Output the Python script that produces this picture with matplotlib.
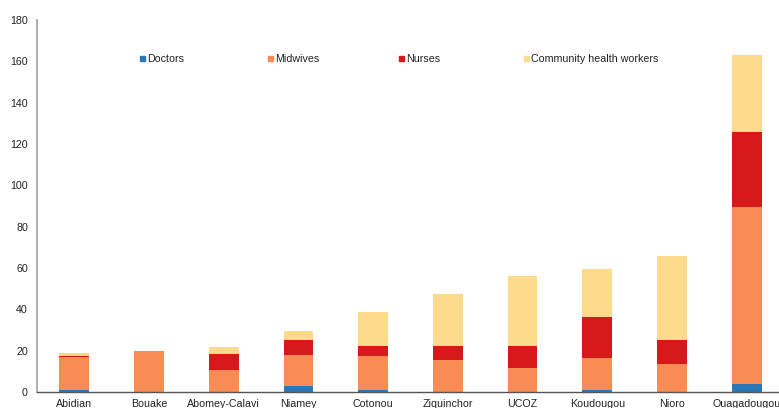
import matplotlib
matplotlib.use("Agg")
import matplotlib.pyplot as plt
from matplotlib.lines import Line2D
import numpy as np

plt.rcParams['font.family'] = ['Liberation Sans', 'DejaVu Sans']

sites = ["Abidian", "Bouake", "Abomey-Calavi", "Niamey", "Cotonou",
         "Ziquinchor", "UCOZ", "Koudougou", "Nioro", "Ouagadougou"]
doctors = [1, 0, 0, 3, 1, 0, 0, 1, 0, 4]
midwives = [16, 20, 10.5, 15, 16.5, 15.5, 11.5, 15.5, 13.5, 85.5]
nurses = [0.5, 0, 8, 7, 5, 7, 11, 20, 11.5, 36.5]
chw = [1.5, 0, 3.5, 4.5, 16, 25, 33.5, 23, 41, 37]

series = [("Doctors", doctors, "#2b78b8"),
          ("Midwives", midwives, "#f98b55"),
          ("Nurses", nurses, "#d7191c"),
          ("Community health workers", chw, "#fdda8c")]

W, H = 779, 408
FS = 7.7
fig = plt.figure(figsize=(W / 100, H / 100), dpi=100)
ax = fig.add_axes([37 / W, 16 / H, 747 / W, 372 / H])

x = np.arange(len(sites))
bottom = np.zeros(len(sites))
for name, vals, col in series:
    v = np.array(vals, dtype=float)
    ax.bar(x, v, width=0.40, bottom=bottom, color=col, label=name, linewidth=0)
    bottom += v

ax.set_xlim(-0.5, len(sites) - 0.5)
ax.set_ylim(0, 180)
ax.set_yticks(np.arange(0, 181, 20))
ax.set_xticks(x)
ax.set_xticklabels(sites, fontsize=FS, color="#222222")
ax.tick_params(axis='both', length=0)
ax.tick_params(axis='y', labelsize=FS, labelcolor="#222222", pad=6.5)
ax.tick_params(axis='x', pad=5)

for s in ["top", "right"]:
    ax.spines[s].set_visible(False)
ax.spines["left"].set_color("#a0a0a0")
ax.spines["left"].set_linewidth(1.2)
ax.spines["bottom"].set_color("#555555")
ax.spines["bottom"].set_linewidth(1.0)

# legend entries placed individually
marker_x = [143, 271, 402, 527]
legend_y = 59
for (name, vals, col), mx in zip(series, marker_x):
    h = Line2D([0], [0], marker='s', color='none', markerfacecolor=col,
               markeredgecolor=col, markersize=3.6, linestyle='none')
    lg = fig.legend([h], [name], loc='center left',
                    bbox_to_anchor=((mx - 4) / W, 1 - legend_y / H),
                    frameon=False, fontsize=FS, handlelength=0.6,
                    handletextpad=0.15, borderpad=0, borderaxespad=0)
    for t in lg.get_texts():
        t.set_color("#222222")

fig.savefig("out.png", dpi=100)
